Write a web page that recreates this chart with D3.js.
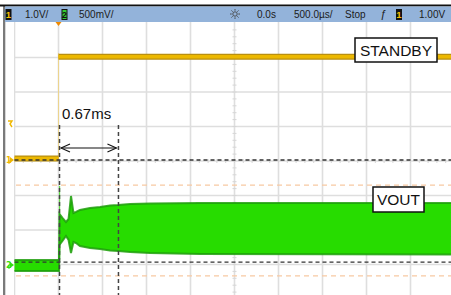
<!DOCTYPE html>
<html><head><meta charset="utf-8">
<script src="https://cdn.jsdelivr.net/npm/d3@7"></script>
<style>html,body{margin:0;padding:0;background:#fff;overflow:hidden}svg{display:block}</style>
</head><body>
<svg id="c" width="451" height="295"></svg>
<script>
// ---- data ----
const headerLabels = ["1.0V/", "500mV/", "0.0s", "500.0µs/", "Stop", "1.00V"];
const timeDivMs = 0.5;            // 500 us / div
const ch1VoltsPerDiv = 1.0;
const ch2VoltsPerDiv = 0.5;
// CH1 (STANDBY) : time (ms), volts
const ch1Time = [-0.5, 0.0, 0.0, 4.5];
const ch1Volt = [0.04, 0.04, 2.99, 2.99];
// CH2 (VOUT) envelope : time (ms), top / bottom volts
const ch2Time = [-0.5, 0.006, 0.011, 0.045, 0.085, 0.114, 0.142, 0.170, 0.199, 0.244, 0.358, 0.472, 0.585, 0.676, 0.813, 1.040, 1.608, 4.46];
const ch2Top  = [0.087, 0.087, 0.754, 0.696, 0.638, 0.681, 1.014, 0.768, 0.783, 0.812, 0.841, 0.855, 0.877, 0.884, 0.899, 0.906, 0.913, 0.913];
const ch2Bot  = [-0.072, -0.072, 0.304, 0.362, 0.435, 0.377, 0.188, 0.348, 0.333, 0.290, 0.261, 0.246, 0.225, 0.217, 0.203, 0.188, 0.174, 0.167];
const cursorTimes = [0.0, 0.67];           // ms
const cursorLevelsDiv = [0.03, -2.93];     // divisions
const refLevelsDiv = [-0.70, -3.33];       // orange dashed reference lines
const annotation = "0.67ms";
const labels = ["STANDBY", "VOUT"];

// ---- scales ----
const x = d3.scaleLinear().domain([-0.5, 4.5]).range([14.5, 454.5]);
const yDiv = d3.scaleLinear().domain([-4, 4]).range([299, 23]);
const ch1Off = 0.03, ch2Off = -3.043;
const y1 = v => yDiv(v / ch1VoltsPerDiv + ch1Off);
const y2 = v => yDiv(v / ch2VoltsPerDiv + ch2Off);

const svg = d3.select("#c");
const W = 451, H = 295;

// grid
const g = svg.append("g");
const xTicks = d3.range(-0.5, 4.5 + 0.001, timeDivMs);
g.selectAll("line.vx").data(xTicks).join("line")
  .attr("x1", d => x(d)).attr("x2", d => x(d)).attr("y1", 22).attr("y2", H)
  .attr("stroke", "#dedede").attr("stroke-width", 1.6);
g.selectAll("line.hy").data(d3.range(-3, 4, 1)).join("line")
  .attr("x1", 14.5).attr("x2", W).attr("y1", d => yDiv(d)).attr("y2", d => yDiv(d))
  .attr("stroke", "#dedede").attr("stroke-width", 1.6);
// minor ticks on center axes
const minorX = d3.range(-0.5, 4.5, timeDivMs / 5);
g.selectAll("line.mx").data(minorX).join("line")
  .attr("x1", d => x(d)).attr("x2", d => x(d)).attr("y1", yDiv(0) - 2).attr("y2", yDiv(0) + 2)
  .attr("stroke", "#d6d6d6");
g.selectAll("line.my").data(d3.range(-4, 4, 0.2)).join("line")
  .attr("x1", x(2.0) - 2).attr("x2", x(2.0) + 2).attr("y1", d => yDiv(d)).attr("y2", d => yDiv(d))
  .attr("stroke", "#d6d6d6");

// orange reference dashed lines
svg.selectAll("line.ref").data(refLevelsDiv).join("line")
  .attr("x1", 16).attr("x2", W).attr("y1", d => yDiv(d)).attr("y2", d => yDiv(d))
  .attr("stroke", "#f7c9a2").attr("stroke-width", 1.3).attr("stroke-dasharray", "5,4");

// CH2 envelope
const ch2 = ch2Time.map((t, i) => ({t, top: ch2Top[i], bot: ch2Bot[i]}));
svg.append("line").attr("x1", x(0.012)).attr("x2", x(0.012)).attr("y1", y2(1.16)).attr("y2", y2(0.09))
  .attr("stroke", "#3fd81e").attr("stroke-width", 1.2).attr("opacity", 0.8);
const area = d3.area().x(d => x(d.t)).y0(d => y2(d.bot)).y1(d => y2(d.top));
svg.append("path").datum(ch2).attr("d", area).attr("fill", "#27dc00");
svg.append("path").datum(ch2).attr("d", d3.line().x(d => x(d.t)).y(d => y2(d.top)))
  .attr("fill", "none").attr("stroke", "#1f9e0c").attr("stroke-width", 2).attr("opacity", 0.85);
svg.append("path").datum(ch2).attr("d", d3.line().x(d => x(d.t)).y(d => y2(d.bot)))
  .attr("fill", "none").attr("stroke", "#1f9e0c").attr("stroke-width", 2).attr("opacity", 0.85);

// CH1 trace
const ch1 = ch1Time.map((t, i) => ({t, v: ch1Volt[i]}));
svg.append("line").attr("x1", x(0)).attr("x2", x(0)).attr("y1", y1(3.1)).attr("y2", y1(0.04))
  .attr("stroke", "#f0d27a").attr("stroke-width", 0.8);
const segs = [ch1.slice(0, 2), ch1.slice(2, 4)];
const ln = d3.line().x(d => x(d.t)).y(d => y1(d.v));
segs.forEach(s => {
  svg.append("path").attr("d", ln(s)).attr("fill", "none").attr("stroke", "#b98f10").attr("stroke-width", 6);
  svg.append("path").attr("d", ln(s)).attr("fill", "none").attr("stroke", "#ecb800").attr("stroke-width", 3.6);
});

// cursors
svg.selectAll("line.ch").data(cursorLevelsDiv).join("line")
  .attr("x1", 14.5).attr("x2", W).attr("y1", d => yDiv(d)).attr("y2", d => yDiv(d))
  .attr("stroke", "#333").attr("stroke-width", 1.4).attr("stroke-dasharray", "4,3");
svg.selectAll("line.cv").data(cursorTimes).join("line")
  .attr("x1", d => x(d) + 1).attr("x2", d => x(d) + 1).attr("y1", 125).attr("y2", H)
  .attr("stroke", "#444").attr("stroke-width", 1.5).attr("stroke-dasharray", "4,3");

// measurement arrow
const ay = 148, ax1 = x(cursorTimes[0]) + 2.5, ax2 = x(cursorTimes[1]) - 1;
svg.append("line").attr("x1", ax1).attr("x2", ax2).attr("y1", ay).attr("y2", ay).attr("stroke", "#111").attr("stroke-width", 1.1);
svg.append("path").attr("d", `M${ax1 + 9},${ay - 4}L${ax1},${ay}L${ax1 + 9},${ay + 4}`).attr("fill", "none").attr("stroke", "#111").attr("stroke-width", 1.1);
svg.append("path").attr("d", `M${ax2 - 9},${ay - 4}L${ax2},${ay}L${ax2 - 9},${ay + 4}`).attr("fill", "none").attr("stroke", "#111").attr("stroke-width", 1.1);
svg.append("text").attr("x", 62).attr("y", 119).text(annotation)
  .attr("font-family", "Liberation Sans, Arial, sans-serif").attr("font-size", 15).attr("fill", "#111");

// label boxes
const boxes = [{t: labels[0], x: 355, y: 38, w: 82, h: 24}, {t: labels[1], x: 373, y: 187, w: 51, h: 25}];
boxes.forEach(b => {
  svg.append("rect").attr("x", b.x).attr("y", b.y).attr("width", b.w).attr("height", b.h)
    .attr("fill", "#fff").attr("stroke", "#111").attr("stroke-width", 1.5);
  svg.append("text").attr("x", b.x + b.w / 2).attr("y", b.y + b.h / 2 + 5.5).attr("text-anchor", "middle")
    .attr("font-family", "Liberation Sans, Arial, sans-serif").attr("font-size", 15.5).attr("fill", "#111").text(b.t);
});

// left margin: white + gray bar
svg.append("rect").attr("x", 0).attr("y", 22).attr("width", 14).attr("height", H).attr("fill", "#fff");
svg.append("rect").attr("x", 3).attr("y", 6).attr("width", 2.3).attr("height", H).attr("fill", "#7a7a7a");
function marker(yy, col, txt) {
  svg.append("text").attr("x", 6).attr("y", yy + 3).text(txt).attr("font-family", "DejaVu Sans, sans-serif")
    .attr("font-size", 8).attr("font-weight", "bold").attr("fill", col);
  svg.append("path").attr("d", `M10,${yy - 3}L14,${yy}L10,${yy + 3}Z`).attr("fill", col);
  svg.append("line").attr("x1", 9).attr("x2", 9).attr("y1", yy).attr("y2", yy + 4).attr("stroke", col);
}
marker(160, "#f0b800", "1");
marker(265, "#33dd11", "2");
svg.append("path").attr("d", "M8,121L12,121L10,124L12,127").attr("fill", "none").attr("stroke", "#f0b800").attr("stroke-width", 1.4);

// header
svg.append("rect").attr("x", 0).attr("y", 4.5).attr("width", W).attr("height", 2).attr("fill", "#111");
svg.append("rect").attr("x", 5).attr("y", 6.5).attr("width", W).attr("height", 15.5).attr("fill", "#93b3da");
const hf = "Liberation Sans, Arial, sans-serif";
function badge(bx, fill, txtCol, t) {
  svg.append("rect").attr("x", bx).attr("y", 9).attr("width", 6).attr("height", 11).attr("fill", "#111");
  if (fill) svg.append("rect").attr("x", bx + 1).attr("y", 10).attr("width", 4).attr("height", 9).attr("fill", fill);
  svg.append("text").attr("x", bx + 3).attr("y", 18.3).attr("text-anchor", "middle").attr("font-family", hf)
    .attr("font-size", 9.5).attr("font-weight", "bold").attr("fill", txtCol).text(t);
}
badge(5.5, null, "#f5c000", "1");
badge(61.5, "#33cc33", "#111", "2");
badge(396, null, "#f5c000", "1");
const hx = [25, 79, 257, 294, 345, 419];
svg.selectAll("text.h").data(headerLabels).join("text")
  .attr("x", (d, i) => hx[i]).attr("y", 18).text(d => d)
  .attr("font-family", hf).attr("font-size", 10).attr("fill", "#1b1b1b");
svg.append("text").attr("x", 380).attr("y", 18).text("ƒ").attr("font-family", hf).attr("font-size", 11)
  .attr("font-style", "italic").attr("fill", "#1b1b1b");
const sx = 235, sy = 14;
svg.append("circle").attr("cx", sx).attr("cy", sy).attr("r", 2.2).attr("fill", "none").attr("stroke", "#444").attr("stroke-width", 0.9);
d3.range(8).forEach(i => {
  const a = i * Math.PI / 4;
  svg.append("line").attr("x1", sx + Math.cos(a) * 3.3).attr("y1", sy + Math.sin(a) * 3.3)
    .attr("x2", sx + Math.cos(a) * 5).attr("y2", sy + Math.sin(a) * 5).attr("stroke", "#444").attr("stroke-width", 0.9);
});
svg.append("path").attr("d", `M${x(0) - 3},22L${x(0) + 3},22L${x(0)},26Z`).attr("fill", "#f08a00");
</script>
</body></html>
